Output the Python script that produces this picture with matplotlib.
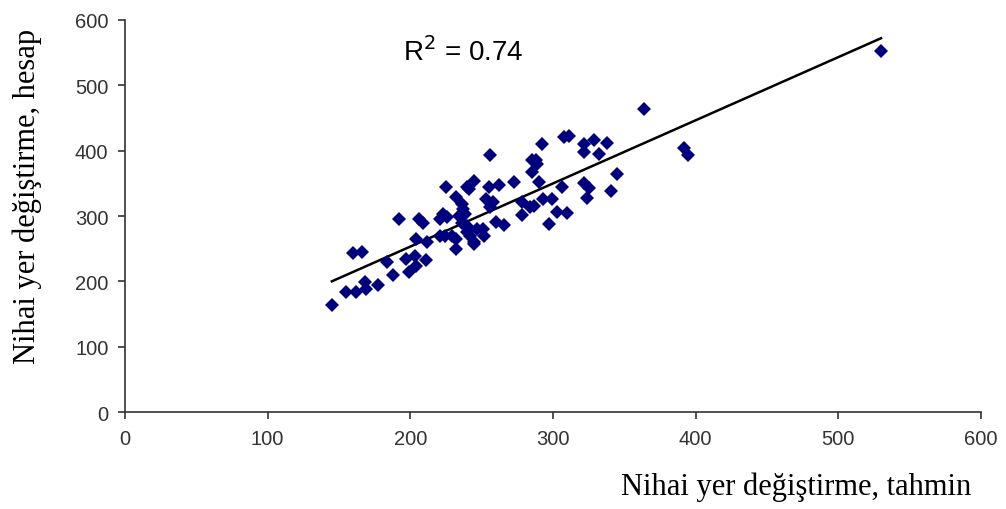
import matplotlib
matplotlib.use("Agg")
import matplotlib.pyplot as plt
import numpy as np

# Predicted (tahmin) vs calculated (hesap) final displacement
tahmin = [145, 160, 166, 155, 162, 168, 169, 177, 184, 188, 192,
          197, 203, 204, 199, 211, 212, 204, 206, 209,
          221, 223, 226, 225, 232,
          236, 237, 238, 234, 236, 240,
          221, 224, 229, 232, 232,
          240, 241, 245,
          240, 242, 247, 245, 251, 252, 245,
          253, 256, 258, 255, 262, 256,
          260, 266, 273, 278, 278, 284, 287,
          285, 288, 289, 285, 290, 292,
          293, 299, 297, 303, 310, 306, 308, 311,
          322, 329, 338, 322, 332, 345,
          322, 325, 324, 341, 364, 392, 395, 530]
hesap = [164, 244, 245, 183, 183, 199, 188, 194, 229, 209, 295,
         234, 239, 224, 215, 232, 260, 265, 296, 290,
         296, 303, 298, 344, 329,
         318, 311, 303, 300, 290, 285,
         270, 270, 270, 265, 250,
         344, 341, 354,
         275, 270, 280, 260, 280, 270, 257,
         326, 314, 321, 344, 347, 394,
         291, 287, 352, 321, 302, 314, 316,
         385, 386, 380, 367, 352, 410,
         326, 326, 288, 306, 304, 344, 421, 423,
         410, 417, 412, 398, 395, 365,
         350, 343, 327, 338, 463, 404, 394, 553]

# Linear trend line and its fit statistic
trend_slope = 0.966
trend_intercept = 60.0
trend_x = [145, 530]
r_squared = 0.74

x_ticks = [0, 100, 200, 300, 400, 500, 600]
y_ticks = [0, 100, 200, 300, 400, 500, 600]

fig = plt.figure(figsize=(10.06, 5.10), dpi=100)
ax = fig.add_axes([0.1243, 0.190, 0.8507, 0.769])

ax.plot(tahmin, hesap, linestyle="none", marker="D", markersize=7,
        color="#00007f", markeredgewidth=0, zorder=3)

tx = np.array(trend_x, dtype=float)
ax.plot(tx, trend_slope * tx + trend_intercept, color="black", linewidth=1.8, zorder=2)

ax.set_xlim(0, 600)
ax.set_ylim(0, 600)
ax.set_xticks(x_ticks)
ax.set_yticks(y_ticks)

for side in ("top", "right"):
    ax.spines[side].set_visible(False)
for side in ("left", "bottom"):
    ax.spines[side].set_color("#333333")
    ax.spines[side].set_linewidth(1.2)

ax.tick_params(axis="both", direction="out", length=5, width=1.2, color="#333333",
               labelcolor="#333333", labelsize=14.5, pad=7)
for lbl in ax.get_xticklabels() + ax.get_yticklabels():
    lbl.set_family("Liberation Sans")

ax.text(195, 553, rf"R$^2$ = {r_squared:.2f}", fontsize=20, family="Liberation Sans",
        color="black", va="center", ha="left")

fig.text(0.965, 0.045, "Nihai yer değiştirme, tahmin", family="Liberation Serif",
         fontsize=22, ha="right", va="center", color="black")
fig.text(0.027, 0.615, "Nihai yer değiştirme, hesap", family="Liberation Serif",
         fontsize=22, ha="center", va="center", rotation=90, color="black")

fig.savefig("out.png", dpi=100)
